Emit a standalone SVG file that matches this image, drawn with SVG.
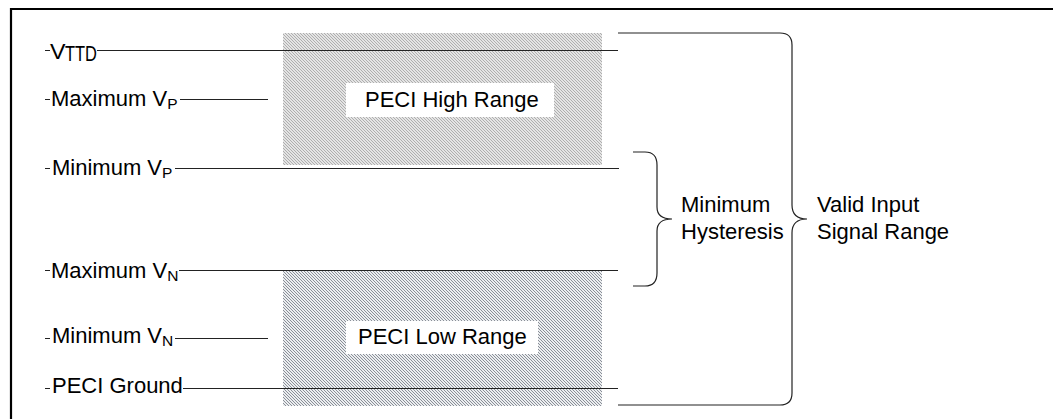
<svg xmlns="http://www.w3.org/2000/svg" width="1053" height="419" viewBox="0 0 1053 419">
<style>
  text { font-family: "Liberation Sans", Arial, sans-serif; font-size: 22px; fill: #000; }
  .sub { font-size: 15.5px; }
  .ln { stroke: #222; stroke-width: 1.2; fill: none; }
  .brace { stroke: #222; stroke-width: 1.2; fill: none; }
  .frame { stroke: #000; stroke-width: 2.2; fill: none; }
  .bg { fill: #fff; }
</style>
<defs>
  <pattern id="hatchHi" width="3" height="3" patternUnits="userSpaceOnUse">
    <rect width="3" height="3" fill="#e4e4e4"/>
    <path d="M0,0 L3,3 M-1,2 L1,4 M2,-1 L4,1" stroke="#a8a8a8" stroke-width="0.9"/>
  </pattern>
  <pattern id="hatchLo" width="3" height="3" patternUnits="userSpaceOnUse">
    <rect width="3" height="3" fill="#eceef0"/>
    <path d="M0,0 L3,3 M-1,2 L1,4 M2,-1 L4,1" stroke="#8a8f98" stroke-width="1"/>
  </pattern>
</defs>
<rect width="1053" height="419" fill="#fff"/>
<path class="frame" d="M11,419 L11,9 L1053,9"/>

<g id="peci-high-range">
  <rect x="283" y="33" width="319" height="132" fill="url(#hatchHi)"/>
  <rect x="346" y="83" width="208" height="34" class="bg"/>
  <text x="365" y="107">PECI High Range</text>
</g>
<g id="peci-low-range">
  <rect x="283" y="270" width="319" height="136" fill="url(#hatchLo)"/>
  <rect x="346" y="321" width="192" height="33" class="bg"/>
  <text x="358" y="344">PECI Low Range</text>
</g>

<g id="connectors">
  <line class="ln" x1="45" y1="50.5" x2="618" y2="50.5"/>
  <line class="ln" x1="45" y1="99.5" x2="268" y2="99.5"/>
  <line class="ln" x1="45" y1="168.5" x2="619" y2="168.5"/>
  <line class="ln" x1="45" y1="270.5" x2="618" y2="270.5"/>
  <line class="ln" x1="45" y1="338.5" x2="268" y2="338.5"/>
  <line class="ln" x1="45" y1="388.5" x2="618" y2="388.5"/>
  <path class="brace" d="M618,33 L780,33 Q792,33 792,45 L792,205 Q792,219 807,219 Q792,219 792,233 L792,393 Q792,405 780,405 L618,405"/>
  <path class="brace" d="M633,152 L645,152 Q657,152 657,165 L657,207 Q657,219 672,219 Q657,219 657,231 L657,273 Q657,286 645,286 L633,286"/>
</g>

<g id="label-vttd">
  <rect x="50" y="35" width="47" height="27" class="bg"/>
  <text x="50" y="58.5" font-size="29" textLength="15.5" lengthAdjust="spacingAndGlyphs">V</text>
  <text x="65" y="61" font-size="12.6" textLength="32" lengthAdjust="spacingAndGlyphs">TTD</text>
</g>
<g id="label-max-vp">
  <rect x="50" y="86" width="130" height="24" class="bg"/>
  <text x="51" y="106">Maximum V<tspan class="sub" dy="3">P</tspan></text>
</g>
<g id="label-min-vp">
  <rect x="50" y="155" width="125" height="24" class="bg"/>
  <text x="52" y="175">Minimum V<tspan class="sub" dy="3">P</tspan></text>
</g>
<g id="label-max-vn">
  <rect x="50" y="258" width="129" height="24" class="bg"/>
  <text x="51" y="278">Maximum V<tspan class="sub" dy="3">N</tspan></text>
</g>
<g id="label-min-vn">
  <rect x="50" y="325" width="125" height="24" class="bg"/>
  <text x="52" y="343">Minimum V<tspan class="sub" dy="3">N</tspan></text>
</g>
<g id="label-peci-ground">
  <rect x="50" y="374" width="133" height="24" class="bg"/>
  <text x="52" y="393">PECI Ground</text>
</g>

<g id="label-min-hysteresis">
  <text x="681" y="212">Minimum</text>
  <text x="681" y="239">Hysteresis</text>
</g>
<g id="label-valid-input">
  <text x="817" y="212">Valid Input</text>
  <text x="817" y="239">Signal Range</text>
</g>
</svg>
